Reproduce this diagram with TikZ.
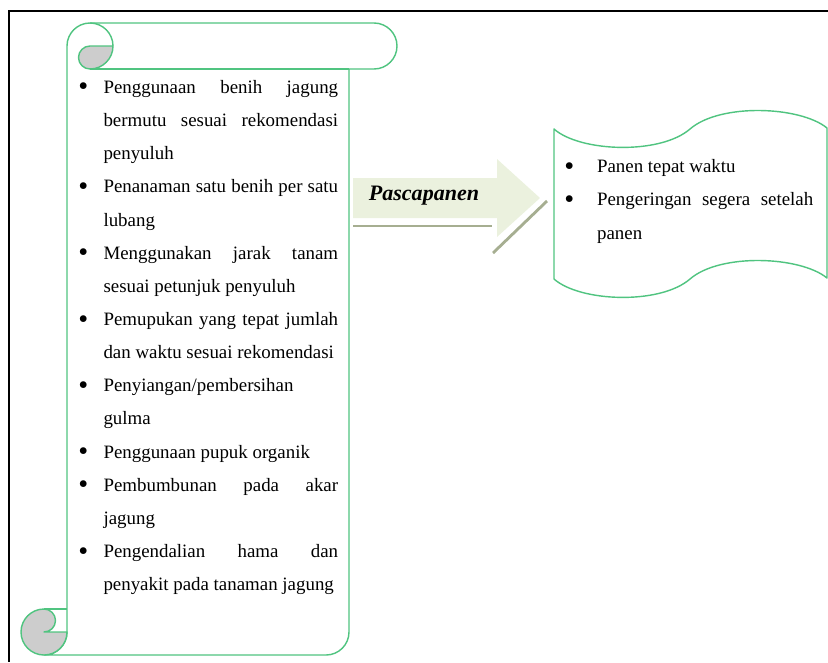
\documentclass[tikz,border=0pt]{standalone}
\usepackage{fontspec}
\setmainfont{Liberation Serif}
\usepackage{graphicx}
\usepackage{enumitem}
\usepackage{tikz}
\usetikzlibrary{positioning}
\definecolor{scrollgreen}{RGB}{80,196,128}
\definecolor{curlgray}{RGB}{205,205,205}
\definecolor{arrowfill}{RGB}{235,241,222}
\definecolor{arrowshade}{RGB}{166,174,145}
\tikzstyle{outline}=[draw=scrollgreen,line width=0.9pt,line join=round]
\tikzstyle{curl}=[outline,fill=curlgray]
\tikzstyle{items}=[anchor=north west,inner sep=0pt,align=justify,font=\fontsize{12}{21.05}\selectfont]
\tikzstyle{shade}=[arrowshade,line width=1.8pt]
\setlist[itemize]{nosep,label=\strut\raisebox{-1.6pt}{\scalebox{1.5}{\textbullet}},leftmargin=16pt,labelwidth=16pt,labelsep=0pt,align=left}
\tolerance=9999
\hyphenpenalty=10000

\begin{document}
\begin{tikzpicture}[x=0.635pt,y=-0.635pt]

\useasboundingbox (0,0) rectangle (828,662);
\draw[line width=1.3pt] (828,11) -- (9,11) -- (9,662);

\draw[outline,fill=white] (67,46) arc[start angle=180,end angle=270,radius=23] -- (374,23)
  arc[start angle=-90,end angle=90,radius=23] -- (349,69) -- (349,632)
  arc[start angle=0,end angle=90,radius=23] -- (44,655)
  arc[start angle=90,end angle=0,radius=23] -- cycle;
\draw[outline] (90,23) arc[start angle=270,end angle=360,radius=23];
\draw[curl] (113,46) -- (90,46) arc[start angle=270,end angle=90,radius=11.5]
  arc[start angle=90,end angle=0,radius=23] -- cycle;
\draw[outline] (90,69) -- (349,69);
\draw[curl] (67,632) arc[start angle=0,end angle=270,radius=23]
  arc[start angle=270,end angle=450,radius=11.5] -- cycle;
\draw[outline] (44,609) -- (67,609);

\draw[outline,fill=white] (554,129) .. controls (580,152) and (660,155) .. (690,129)
  .. controls (720,103) and (800,106) .. (827,128) -- (827,278)
  .. controls (800,256) and (720,253) .. (690,279)
  .. controls (660,305) and (580,302) .. (554,279) -- cycle;

\fill[arrowfill] (353,178) -- (497,178) -- (497,159) -- (540,198) -- (497,237)
  -- (497,218) -- (353,218) -- cycle;
\draw[shade] (353,226) -- (492,226);
\draw[shade] (493,253) -- (547,201);
\node[anchor=base,inner sep=0pt,font=\fontsize{14}{16}\selectfont\bfseries\itshape] (pasca) at (424,200) {Pascapanen};

\node[items,text width=165pt] (budidaya) at (78,60) {%
\begin{itemize}
\item Penggunaan benih jagung bermutu sesuai rekomendasi penyuluh
\item Penanaman satu benih per satu lubang
\item Menggunakan jarak tanam sesuai petunjuk penyuluh
\item Pemupukan yang tepat jumlah dan waktu sesuai rekomendasi
\item Penyiangan/pembersihan gulma
\item Penggunaan pupuk organik
\item Pembumbunan pada akar jagung
\item Pengendalian hama dan penyakit pada tanaman jagung
\end{itemize}};

\node[items,text width=158.1pt] (panen) at (564,139.3) {%
\begin{itemize}[leftmargin=20.8pt,labelwidth=20.8pt]
\item Panen tepat waktu
\item Pengeringan segera setelah panen
\end{itemize}};

\end{tikzpicture}
\end{document}
